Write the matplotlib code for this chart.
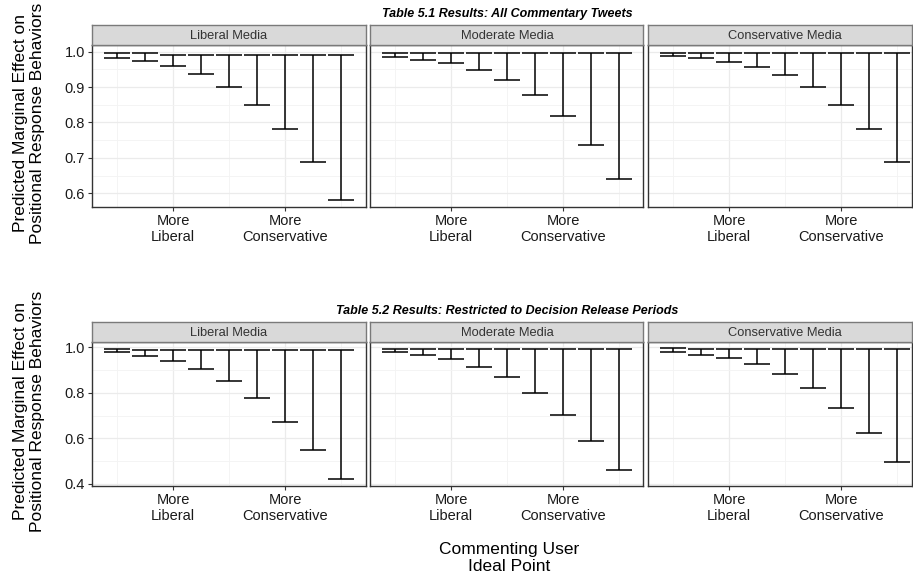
import matplotlib
matplotlib.use("Agg")
import matplotlib.pyplot as plt
from matplotlib.ticker import FixedLocator

plt.rcParams['font.family'] = ['Liberation Sans', 'DejaVu Sans']

# Commenting-user ideal point positions (liberal -> conservative)
ideal_points = [1, 2, 3, 4, 5, 6, 7, 8, 9]
x_breaks = [3, 7]
x_labels = ["More\nLiberal", "More\nConservative"]
media_types = ["Liberal Media", "Moderate Media", "Conservative Media"]

titles = ["Table 5.1 Results: All Commentary Tweets",
          "Table 5.2 Results: Restricted to Decision Release Periods"]

# Table 5.1 confidence intervals
t1_lib_lo = [0.981, 0.973, 0.959, 0.936, 0.900, 0.848, 0.781, 0.689, 0.581]
t1_lib_hi = [0.995, 0.995, 0.992, 0.992, 0.992, 0.992, 0.992, 0.992, 0.990]
t1_mod_lo = [0.986, 0.976, 0.968, 0.948, 0.920, 0.877, 0.817, 0.737, 0.639]
t1_mod_hi = [0.995, 0.995, 0.995, 0.995, 0.995, 0.995, 0.995, 0.995, 0.995]
t1_con_lo = [0.988, 0.982, 0.972, 0.957, 0.933, 0.899, 0.848, 0.781, 0.689]
t1_con_hi = [0.997, 0.997, 0.997, 0.997, 0.997, 0.997, 0.997, 0.997, 0.997]

# Table 5.2 confidence intervals
t2_lib_lo = [0.978, 0.963, 0.941, 0.905, 0.854, 0.776, 0.672, 0.551, 0.422]
t2_lib_hi = [0.991, 0.988, 0.988, 0.988, 0.988, 0.988, 0.988, 0.988, 0.988]
t2_mod_lo = [0.978, 0.965, 0.947, 0.915, 0.868, 0.801, 0.704, 0.589, 0.460]
t2_mod_hi = [0.991, 0.991, 0.991, 0.991, 0.991, 0.991, 0.991, 0.991, 0.991]
t2_con_lo = [0.981, 0.968, 0.952, 0.927, 0.883, 0.820, 0.735, 0.622, 0.497]
t2_con_hi = [0.995, 0.991, 0.991, 0.991, 0.991, 0.991, 0.991, 0.991, 0.991]

rows = [
    dict(lo=[t1_lib_lo, t1_mod_lo, t1_con_lo], hi=[t1_lib_hi, t1_mod_hi, t1_con_hi],
         ylim=(0.561, 1.019), yticks=[0.6, 0.7, 0.8, 0.9, 1.0],
         yminor=[0.65, 0.75, 0.85, 0.95], ylabels=["0.6", "0.7", "0.8", "0.9", "1.0"],
         strip_top=25, panel_top=45, panel_bottom=207, title_y=14),
    dict(lo=[t2_lib_lo, t2_mod_lo, t2_con_lo], hi=[t2_lib_hi, t2_mod_hi, t2_con_hi],
         ylim=(0.391, 1.023), yticks=[0.4, 0.6, 0.8, 1.0],
         yminor=[0.5, 0.7, 0.9], ylabels=["0.4", "0.6", "0.8", "1.0"],
         strip_top=322, panel_top=342, panel_bottom=486, title_y=311),
]

W, H = 913, 576
fig = plt.figure(figsize=(W / 100, H / 100), dpi=100)

panel_x = [(92, 366), (370, 643), (648, 912)]
px_per_unit = (366 - 92) / (9.895 - 0.105)
cap_half = 0.45

border_col = "#333333"
grid_major = "#ebebeb"
grid_minor = "#f3f3f3"


def fx(px):
    return px / W


def fy(py):
    return 1 - py / H


for r, row in enumerate(rows):
    for p, (x0, x1) in enumerate(panel_x):
        ax = fig.add_axes([fx(x0), fy(row["panel_bottom"]), fx(x1 - x0),
                           (row["panel_bottom"] - row["panel_top"]) / H])
        xmin = 0.105
        xmax = xmin + (x1 - x0) / px_per_unit
        ax.set_xlim(xmin, xmax)
        ax.set_ylim(*row["ylim"])

        # grid
        for gx in [1, 5, 9]:
            ax.axvline(gx, color=grid_minor, lw=0.6, zorder=0)
        for gx in x_breaks:
            ax.axvline(gx, color=grid_major, lw=0.9, zorder=0)
        for gy in row["yminor"]:
            ax.axhline(gy, color=grid_minor, lw=0.6, zorder=0)
        for gy in row["yticks"]:
            ax.axhline(gy, color=grid_major, lw=0.9, zorder=0)

        lo = row["lo"][p]
        hi = row["hi"][p]
        ax.vlines(ideal_points, lo, hi, color="black", lw=1.1, zorder=3)
        ax.hlines(lo, [x - cap_half for x in ideal_points],
                  [x + cap_half for x in ideal_points], color="black", lw=1.1, zorder=3)
        ax.hlines(hi, [x - cap_half for x in ideal_points],
                  [x + cap_half for x in ideal_points], color="black", lw=1.1, zorder=3)

        ax.xaxis.set_major_locator(FixedLocator(x_breaks))
        ax.set_xticklabels(x_labels, fontsize=10.5, color="#1a1a1a", linespacing=1.2)
        ax.yaxis.set_major_locator(FixedLocator(row["yticks"]))
        if p == 0:
            ax.set_yticklabels(row["ylabels"], fontsize=10.5, color="#1a1a1a")
            ax.tick_params(axis="y", length=3, width=0.8, color=border_col, pad=2)
        else:
            ax.tick_params(axis="y", length=0, labelleft=False)
        ax.tick_params(axis="x", length=3, width=0.8, color=border_col, pad=2)

        for s in ax.spines.values():
            s.set_color(border_col)
            s.set_linewidth(1.0)

        # facet strip
        sax = fig.add_axes([fx(x0), fy(row["panel_top"]), fx(x1 - x0),
                            (row["panel_top"] - row["strip_top"]) / H])
        sax.set_facecolor("#d9d9d9")
        sax.set_xticks([])
        sax.set_yticks([])
        for s in sax.spines.values():
            s.set_color("#7a7a7a")
            s.set_linewidth(1.0)
        sax.text(((366 - 92) / 2) / (x1 - x0), 0.47, media_types[p],
                 transform=sax.transAxes, ha="center", va="center",
                 fontsize=9.3, color="#333333")

    fig.text(fx(507), fy(row["title_y"]), titles[r], ha="center", va="center",
             fontsize=9, fontweight="bold", fontstyle="italic", color="black")

    mid = (row["panel_top"] + row["panel_bottom"]) / 2
    fig.text(fx(29), fy(mid - 3), "Predicted Marginal Effect on\nPositional Response Behaviors",
             rotation=90, ha="center", va="center", fontsize=12.5,
             color="black", linespacing=1.2)

fig.text(fx(509), fy(558), "Commenting User\nIdeal Point", ha="center", va="center",
         fontsize=12.5, color="black", linespacing=1.15)

fig.savefig("out.png", dpi=100)
